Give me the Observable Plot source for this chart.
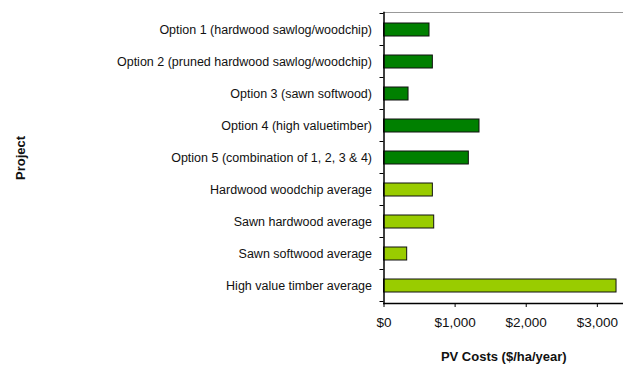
<!DOCTYPE html>
<html><head><meta charset="utf-8">
<script src="https://cdn.jsdelivr.net/npm/d3@7"></script>
<script src="https://cdn.jsdelivr.net/npm/@observablehq/plot@0.6"></script>
<style>body{margin:0;background:#fff}</style>
</head><body><div id="chart"></div>
<script>
const categories = [
  "Option 1 (hardwood sawlog/woodchip)",
  "Option 2 (pruned hardwood sawlog/woodchip)",
  "Option 3 (sawn softwood)",
  "Option 4 (high valuetimber)",
  "Option 5 (combination of 1, 2, 3 & 4)",
  "Hardwood woodchip average",
  "Sawn hardwood average",
  "Sawn softwood average",
  "High value timber average"
];
const values = [640, 687, 345, 1343, 1193, 687, 706, 326, 3270];
const groups = ["option","option","option","option","option","average","average","average","average"];
const xTicks = [0, 1000, 2000, 3000];
const xTitle = "PV Costs ($/ha/year)";
const yTitle = "Project";

const data = categories.map((c, i) => ({project: c, value: values[i], group: groups[i]}));
const font = "'Liberation Sans', Arial, sans-serif";

function boundaryTicks(index, scales, vals, dims) {
  const y = scales.y;
  const x0 = dims.marginLeft;
  const bw = typeof y.bandwidth === "function" ? y.bandwidth() : 0;
  const step = y(categories[1]) - y(categories[0]);
  const gap = (step - bw) / 2;
  const ys = categories.map(c => y(c) - gap);
  ys.push(y(categories[categories.length - 1]) + bw + gap);
  const g = d3.create("svg:g");
  for (const yy of ys) {
    g.append("line").attr("x1", x0 - 4).attr("x2", x0).attr("y1", yy).attr("y2", yy)
      .attr("stroke", "#000").attr("stroke-width", 1);
  }
  return g.node();
}

const chart = Plot.plot({
  width: 623,
  height: 365,
  marginLeft: 383.5,
  marginRight: 0,
  marginTop: 12,
  marginBottom: 62,
  style: {fontFamily: font, background: "#fff", color: "#000"},
  x: {domain: [0, 3368]},
  y: {domain: categories, paddingInner: 0.6, paddingOuter: 0.3},
  color: {domain: ["option", "average"], range: ["#008000", "#99cc00"]},
  marks: [
    Plot.frame({anchor: "top", stroke: "#999", strokeWidth: 1}),
    Plot.barX(data, {x: "value", y: "project", fill: "group", stroke: "#111", strokeWidth: 1}),
    Plot.axisY({tickSize: 0, tickPadding: 12, fontSize: 12.5, label: null, fill: "#111"}),
    Plot.axisX({ticks: xTicks, tickFormat: d3.format("$,"), tickSize: 4, tickPadding: 10, fontSize: 13.5, label: null, fill: "#111"}),
    Plot.frame({anchor: "bottom", stroke: "#000", strokeWidth: 1.5}),
    Plot.frame({anchor: "left", stroke: "#000", strokeWidth: 1.5}),
    boundaryTicks,
    Plot.text([xTitle], {frameAnchor: "bottom", dy: 53, lineAnchor: "middle", fontWeight: "bold", fontSize: 13, fill: "#111"}),
    Plot.text([yTitle], {frameAnchor: "left", dx: -363, lineAnchor: "middle", textAnchor: "middle", rotate: -90, fontWeight: "bold", fontSize: 13, fill: "#111"})
  ]
});
document.getElementById("chart").append(chart);
</script>
</body></html>
